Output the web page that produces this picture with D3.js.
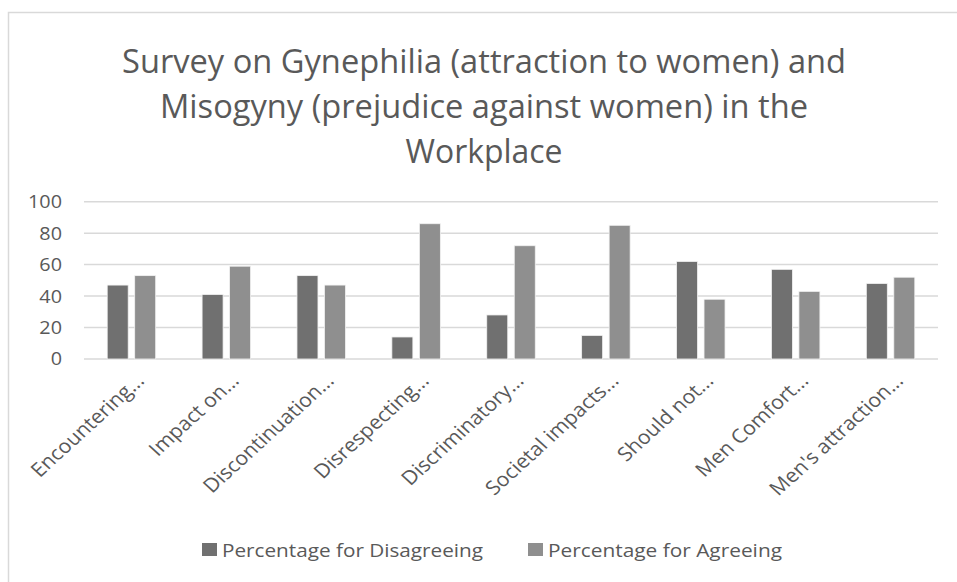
<!DOCTYPE html>
<html><head><meta charset="utf-8">
<script src="https://cdn.jsdelivr.net/npm/d3@7"></script>
<style>body{margin:0;background:#fff}svg{display:block}text{font-family:"Open Sans",sans-serif;fill:#595959}</style>
</head><body>
<svg id="c" width="957" height="582"></svg>
<script>
const titleLines = ["Survey on Gynephilia (attraction to women) and","Misogyny (prejudice against women) in the","Workplace"];
const categories = ["Encountering...","Impact on...","Discontinuation...","Disrespecting...","Discriminatory...","Societal impacts...","Should not...","Men Comfort...","Men's attraction..."];
const disagree = [47,41,53,14,28,15,62,57,48];
const agree = [53,59,47,86,72,85,38,43,52];
const seriesNames = ["Percentage for Disagreeing","Percentage for Agreeing"];
const seriesColors = ["#707070","#8f8f8f"];
const yTicks = [0,20,40,60,80,100];

const svg = d3.select("#c");
svg.append("rect").attr("x",8.5).attr("y",12.5).attr("width",960).attr("height",600)
  .attr("fill","none").attr("stroke","#d9d9d9").attr("stroke-width",1.5);

const titleWidths = [724,648,157];
svg.append("g").selectAll("text").data(titleLines).join("text")
  .attr("x",484).attr("y",(d,i)=>72.5+i*45.3).attr("text-anchor","middle")
  .style("font-size","32px")
  .attr("textLength",(d,i)=>titleWidths[i]).attr("lengthAdjust","spacingAndGlyphs")
  .text(d=>d);

const x = d3.scaleBand().domain(categories).range([84,938]);
const y = d3.scaleLinear().domain([0,100]).range([359,201.7]);

svg.append("g").selectAll("line").data(yTicks).join("line")
  .attr("x1",84).attr("x2",938).attr("y1",d=>y(d)).attr("y2",d=>y(d))
  .attr("stroke","#d9d9d9").attr("stroke-width",1.5);

svg.append("g").selectAll("text").data(yTicks).join("text")
  .attr("x",62).attr("y",d=>y(d)+6.5).attr("text-anchor","end")
  .style("font-size","18px")
  .attr("transform","translate(62,0) scale(1.1,1) translate(-62,0)")
  .text(d=>d);

const bw = 21, gap = 6.5;
const series = [disagree, agree];
series.forEach((vals,si)=>{
  svg.append("g").selectAll("rect").data(vals).join("rect")
    .attr("x",(d,i)=>x(categories[i])+x.bandwidth()/2 + (si===0 ? -gap/2-bw : gap/2))
    .attr("y",d=>y(d)).attr("width",bw).attr("height",d=>y(0)-y(d))
    .attr("fill",seriesColors[si]).attr("stroke","#f2f2f2").attr("stroke-width",0.8);
});

const sx = 1.1;
const catTexts = svg.append("g").selectAll("text").data(categories).join("text")
  .attr("transform",d=>`translate(${x(d)+x.bandwidth()/2+14},382) scale(${sx},1) rotate(-45)`)
  .attr("text-anchor","end").style("font-size","18px").text(d=>d);
const l0 = catTexts.node().getComputedTextLength();
catTexts.style("font-size",(18*136/l0).toFixed(2)+"px");

const leg = svg.append("g");
const legX = [202,528];
const legW = [261,234];
seriesNames.forEach((n,i)=>{
  leg.append("rect").attr("x",legX[i]).attr("y",543).attr("width",15).attr("height",13).attr("fill",seriesColors[i]);
  leg.append("text").attr("x",legX[i]+20).attr("y",556.5).style("font-size","18.5px")
    .attr("textLength",legW[i]).attr("lengthAdjust","spacingAndGlyphs").text(n);
});
</script>
</body></html>
